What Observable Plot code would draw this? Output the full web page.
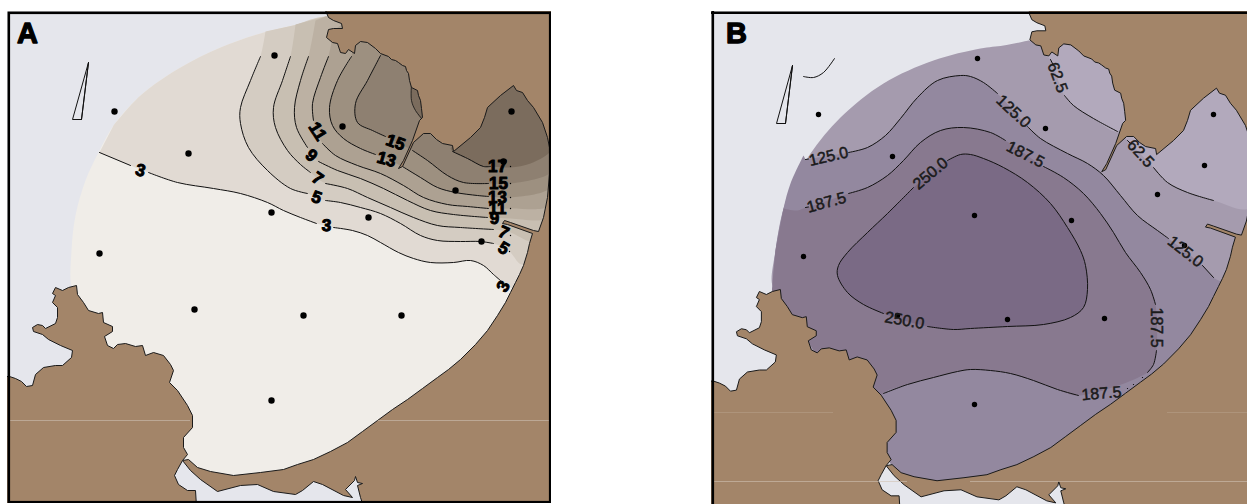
<!DOCTYPE html>
<html><head><meta charset="utf-8">
<script src="https://cdn.jsdelivr.net/npm/d3@7"></script>
<script src="https://cdn.jsdelivr.net/npm/@observablehq/plot@0.6"></script>
<style>
html,body{margin:0;padding:0;background:#fff;width:1247px;height:504px;overflow:hidden}
#a,#b{position:absolute}
#a{left:7px;top:11px}#b{left:711px;top:11px}
svg{display:block}
</style></head><body><div id="a"></div><div id="b"></div>
<script>
// ---- coast (panel A reference frame) ----
const coastEast=[[325,10],[328,17],[333,20],[341,23],[342,28],[333,28],[328,29],[326,37],[332,42],[337,43],[340,52],[345,53],[348,49],[354,53],[355,45],[360,41],[367,42],[375,48],[380,53],[388,56],[391,59],[395,60],[398,62],[402,65],[405,66],[406,70],[408,73],[409,80],[411,87],[417,90],[418,95],[420,100],[421,108],[422,117],[419,120],[412,140],[403,160],[398,168],[402,166],[413,142],[423,133],[430,133],[436,139],[442,143],[452,145],[453,151],[470,137],[480,127],[484,117],[487,107],[500,95],[513,85],[516,90],[522,92],[527,100],[533,107],[542,122],[547,137],[549,147],[549,173],[547,197],[543,217],[538,231],[533,230],[510,222],[504,220],[502,223],[507,224],[532,233],[529,243],[527,252],[523,265],[519,274],[515,282],[510,292],[505,302],[497,315],[487,330],[475,344],[460,359],[448,369],[437,377],[422,388],[407,399],[392,409],[377,420],[362,431],[347,442],[330,451],[313,459],[297,464],[283,469],[260,472],[233,475],[210,471],[197,467],[188,459],[182,460],[190,470],[200,479],[217,491],[240,485],[257,484],[273,491],[295,494],[302,490],[313,481],[322,484],[343,495],[352,497],[345,489],[354,480],[355,476],[357,482],[362,483],[357,485],[360,497],[363,506],[560,506],[560,5],[325,5]];
const coastWest=[[4,376],[9,376],[15,378],[21,381],[26,386],[32,385],[35,374],[43,367],[55,365],[62,365],[71,357],[72,350],[60,345],[48,339],[42,334],[33,331],[32,327],[37,324],[42,325],[45,328],[55,323],[57,317],[57,307],[52,302],[55,295],[52,293],[55,287],[62,290],[68,287],[76,285],[77,294],[83,302],[88,310],[98,313],[102,312],[103,322],[112,326],[112,331],[104,336],[107,345],[113,348],[117,344],[125,343],[135,346],[142,345],[145,355],[153,352],[163,355],[170,364],[173,370],[169,382],[177,390],[187,405],[192,415],[192,427],[183,437],[183,447],[187,454],[182,460],[177,469],[174,475],[178,484],[187,490],[195,490],[196,506],[4,506]];
const arcA=[[325,18],[297,24],[263,32],[220,47],[180,67],[140,95],[113,125],[98,152],[85,180],[75,215],[71,250],[71,285]];
const regionRestA=[[76,292],[100,340],[185,460],[200,474],[300,478],[420,405],[500,335],[535,260],[556,225],[556,130],[510,70],[400,28]];
// ---- contours panel A ----
const c3=[[[99,152],[130,165]],[[148,172],[177,182],[213,188],[240,193],[267,202],[283,210],[300,217],[316,223]],[[333,227],[352,230],[367,235],[380,242],[398,252],[413,258],[430,262],[453,262],[470,260],[483,265],[493,274],[500,280]]];
const c5=[[[260,56],[250,80],[240,107],[240,123],[248,147],[267,170],[290,188],[307,193]],[[325,200],[340,202],[360,207],[380,213],[400,223],[420,235],[437,240],[460,241],[480,241],[493,243]]];
const c7=[[[290,56],[282,80],[273,107],[275,127],[287,150],[300,164],[310,172]],[[325,183],[347,188],[367,197],[390,207],[413,217],[437,225],[460,227],[493,229]]];
const c9=[[[308,56],[300,80],[294,107],[296,127],[307,147]],[[318,161],[337,170],[360,178],[383,188],[407,200],[430,210],[453,214],[487,217]]];
const c11=[[[328,56],[320,77],[312,103],[313,120]],[[322,143],[335,155],[357,165],[380,173],[403,185],[423,197],[447,204],[467,206],[488,208]]];
const c13=[[[351,56],[337,80],[329,107],[332,125],[343,138],[360,148],[375,154]],[[402,166],[420,177],[437,187],[455,192],[477,195],[488,196]]];
const c15=[[[380,55],[367,80],[355,103],[357,122],[372,130],[385,136]],[[412,150],[427,160],[447,175],[463,182],[488,183]]];
const c17=[[[452,151],[467,158],[483,166],[490,166]]];
const bayPatch=[[411,84],[411,100],[415,110],[423,120],[430,110],[428,84]];
const closeNE=[[556,110],[530,70],[400,28]];
const ticksA=[[510,166],[510,183],[510,197],[510,208],[510,235],[509,251]];
const dotsA=[[114,111],[188,153],[274,55],[342,126],[455,190],[511,111],[271,212],[368,217],[481,241],[99,253],[194,309],[303,315],[401,315],[271,400],[503,161]];
const labelsA=[["3",140,170,15],["3",326,225,3],["3",503,286,-60],["5",316,197,20],["5",503,248,30],["7",317,178,35],["7",503,232,25],["9",311,155,40],["9",494,218,0],["11",317,131,58],["11",497,208,0],["13",386,159,15],["13",497,197,0],["15",395,142,20],["15",498,183,0],["17",497,166,0]];
const wedgeA=[[88,62],[72,119],[81,119],[88,62]];
const seamsA=[[9,190,420],[378,549,420]];
// ---- panel B ----
const arcB=[[1028,40],[1003,45],[980,48],[933,60],[883,83],[840,117],[810,153],[793,183],[783,208],[775,250],[772,285]];
const c625n=[[[1050,59],[1052,63]],[[1064,95],[1073,105],[1093,118],[1117,131]]];
const c625e=[[[1127,140],[1130,143]],[[1153,167],[1167,182],[1187,192],[1213,200]]];
const c125=[[[805,159],[808,158.5]],[[848,152],[867,147],[885,135],[900,118],[917,97],[937,80],[960,75],[970,76],[983,82],[997,93]],[[1027,126],[1040,138],[1067,153],[1087,163],[1103,175],[1120,195],[1137,215],[1157,230],[1168,238]],[[1202,265],[1213,277]]];
const c1875=[[[805,207],[808,206.5]],[[848,193],[867,187],[887,175],[903,160],[920,142],[940,130],[963,127],[990,132],[1005,140]],[[1043,166],[1063,177],[1083,193],[1100,213],[1113,232],[1125,252],[1140,272],[1150,289],[1155,304]],[[1156,350],[1153,364],[1147,372]],[[1078,395],[1057,389],[1033,380],[1010,373],[990,370],[970,369],[957,371],[933,377],[907,384],[883,393]]];
const c250=[[[947,160],[960,154],[970,154],[983,158],[1003,167],[1027,182],[1050,203],[1067,227],[1080,250],[1085,265],[1087,289],[1083,307],[1070,317],[1043,324],[1007,326],[970,328],[953,329],[927,326]],[[883,313],[863,304],[847,292],[837,275],[838,265],[847,252],[867,232],[887,213],[913,187]]];
const strayB=[[803,76],[813,77],[823,72],[834,58]];
const wedgeB=[[792,65],[776,123],[785,123],[792,65]];
const ticksB=[[1142,377],[1133,384],[1127,388]];
const dotsB=[[818,114],[892,156],[977,58],[1045,128],[1157,194],[1213,114],[1204,165],[974,215],[1071,220],[803,256],[1007,319],[1104,318],[974,404],[1184,245],[897,315]];
const labelsB=[["125.0",828,156,-13],["187.5",826,202,-15],["250.0",930,173,-40],["125.0",1013,111,43],["187.5",1025,154,27],["62.5",1057,77,70],["62.5",1140,153,47],["125.0",1185,251,38],["187.5",1156,327,90],["187.5",1101,393,-5],["250.0",904,320,10]];
const seamsB=[[713,833,412,.25],[1167,1247,412,.25],[713,907,481,.6],[970,1247,481,.6]];

const LAND="#a38569",SEA="#e5e6ec",INK="#111";
const X=d=>d[0],Y=d=>d[1];
const toB=p=>[p[0]*.998+704,p[1]*1.0066+2.1];
const flat=s=>s.flat();
const soft=(pts,fill)=>Plot.line(pts,{x:X,y:Y,fill,stroke:"none",curve:"catmull-rom",clip:true});
const hard=(pts,fill,stroke="none",sw=1)=>Plot.line(pts,{x:X,y:Y,fill,stroke,strokeWidth:sw,clip:true});
const lines=(segs,sw=1)=>segs.map(s=>Plot.line(s,{x:X,y:Y,stroke:INK,strokeWidth:sw,curve:"catmull-rom",clip:true}));
const dots=(d,r)=>Plot.dot(d,{x:X,y:Y,r,fill:"#000",stroke:"none",clip:true});
const text=(d,size,weight,sw,fill)=>Plot.text(d,{x:d=>d[1],y:d=>d[2],text:d=>d[0],rotate:d=>d[3],fontSize:size,fontWeight:weight,fontFamily:"Liberation Sans",fill,stroke:fill,strokeWidth:sw,clip:true});
const seam=(d,col)=>d.map(s=>Plot.ruleY([s[2]],{x1:s[0],x2:s[1],stroke:col,strokeOpacity:s[3]??.75,strokeWidth:1,clip:true}));

// Panel A bands
const bandsA=[
 [[...flat(c3),[516,288],[540,250],[556,200],...closeNE,[325,16],...arcA.slice(1,7)],"#e1dad3"],
 [[[265,31],...flat(c5),[508,250],[521,264],[532,258],[556,200],...closeNE,[325,16],[297,24]],"#d4ccc2"],
 [[[295,24],...flat(c7),[510,232],[530,241],[540,238],[556,200],...closeNE,[325,16]],"#c8bfb2"],
 [[[315,20],...flat(c9),[510,218],[546,218],[556,200],...closeNE,[325,16]],"#bcb1a3"],
 [[[333,30],...flat(c11),[510,208],[548,206],[556,190],...closeNE,[340,25]],"#ada192"],
 [[[352,48],...flat(c13),[510,197],[549,188],[556,170],...closeNE,[355,35]],"#9d9080"],
 [[[381,50],...flat(c15),[510,183],[549,173],[556,160],...closeNE],"#8e8071"],
 [[[450,148],...flat(c17),[510,167],[530,163],[549,152],[556,140],[530,70],[470,120]],"#7b6c5d"]
];
const planA=Plot.plot({width:544,height:492,margin:0,
 x:{domain:[7,551],axis:null},y:{domain:[503,11],axis:null},
 marks:[
  Plot.frame({fill:SEA,stroke:"none"}),
  soft([...arcA,...regionRestA],"#f0ede8"),
  ...bandsA.map(b=>soft(b[0],b[1])),
  ...[c3,c5,c7,c9,c11,c13,c15,c17].flatMap(c=>lines(c)),
  soft(bayPatch,"#7b6c5d"),
  Plot.line(bayPatch.slice(0,4),{x:X,y:Y,stroke:INK,strokeWidth:.8,curve:"catmull-rom",clip:true}),
  hard(coastEast,LAND,"#1a1a1a",1),
  hard(coastWest,LAND,"#1a1a1a",1),
  ...seam(seamsA,"#c4b4a4"),
  hard(wedgeA,"none",INK,1),
  Plot.line([[88,62],[81,119]],{x:X,y:Y,stroke:INK,strokeWidth:1}),
  dots(ticksA,.7),
  dots(dotsA,3.2),
  text(labelsA,17,700,1,"#000"),
  Plot.text(["A"],{x:[27],y:[33],fontSize:29,fontWeight:700,fontFamily:"Liberation Sans",fill:"#000",stroke:"#000",strokeWidth:1.3}),
  Plot.frame({stroke:"#000",strokeWidth:2.6,inset:1.3})
 ]});
document.getElementById("a").append(planA);

// Panel B bands
const coastEB=coastEast.map(toB),coastWB=coastWest.map(toB);
const bandsB=[
 [[...flat(c625n),[1130,110],[1110,60],[1055,45],[1045,55]],"#b2a9bc"],
 [[[1124,136],...flat(c625e),[1250,207],[1256,100],[1210,80]],"#b2a9bc"],
 [[...flat(c125),[1224,285],[1205,340],[1165,385],[1130,410],[1016,478],[905,480],[870,420],[820,360],[795,320],[772,292],...arcB.slice(-3).reverse(),[790,183],[803,155]],"#93889f"],
 [[[783,208],[797,210],...flat(c1875),[870,420],[820,360],[795,320],[772,292],[772,285],[775,250]],"#88798f"],
 [[...flat(c250)],"#7a6a85"]
];
const planB=Plot.plot({width:536,height:493,margin:0,
 x:{domain:[711,1247],axis:null},y:{domain:[504,11],axis:null},
 marks:[
  Plot.frame({fill:SEA,stroke:"none"}),
  soft([...arcB,[780,292],[800,340],[890,460],[905,480],[1016,478],[1130,410],[1165,385],[1205,340],[1224,285],[1260,230],[1260,130],[1210,75],[1100,40]],"#a59bae"),
  ...bandsB.map(b=>soft(b[0],b[1])),
  ...[c625n,c625e,c125,c1875,c250].flatMap(c=>lines(c)),
  Plot.line(strayB,{x:X,y:Y,stroke:INK,strokeWidth:1,curve:"catmull-rom",clip:true}),
  hard(coastEB,LAND,"#1a1a1a",1),
  hard(coastWB,LAND,"#1a1a1a",1),
  ...seam(seamsB,"#d0c2b2"),
  hard(wedgeB,"none",INK,1),
  Plot.line([[792,65],[785,123]],{x:X,y:Y,stroke:INK,strokeWidth:1}),
  dots(ticksB,.6),
  dots(dotsB,2.7),
  text(labelsB,16,400,.5,"#1a1a1a"),
  Plot.text(["B"],{x:[736],y:[33],fontSize:29,fontWeight:700,fontFamily:"Liberation Sans",fill:"#000",stroke:"#000",strokeWidth:1.3}),
  Plot.ruleX([712.3],{stroke:"#000",strokeWidth:2.6}),
  Plot.ruleY([12.3],{stroke:"#000",strokeWidth:2.6})
 ]});
document.getElementById("b").append(planB);
</script></body></html>
